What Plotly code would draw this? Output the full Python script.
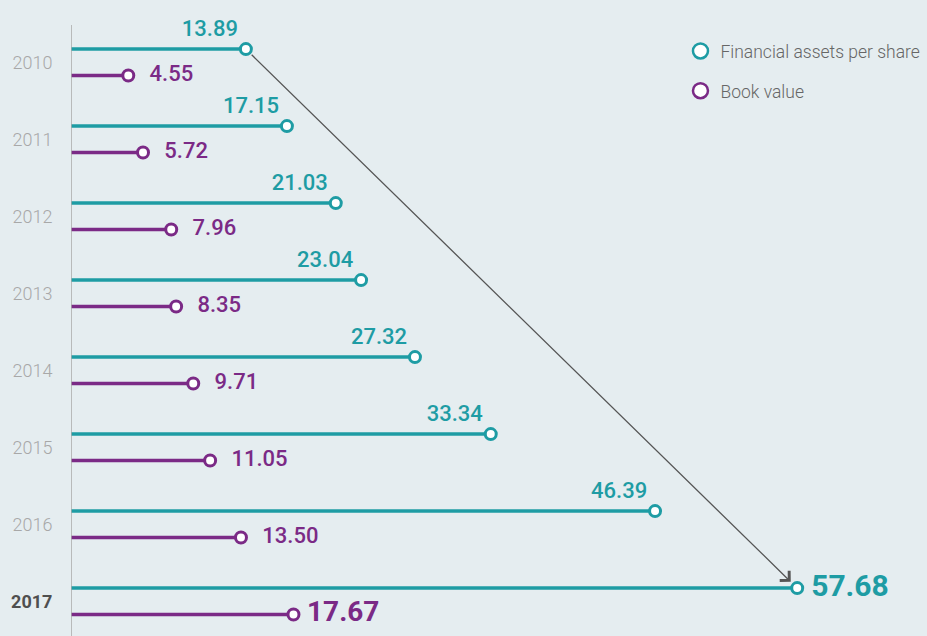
import plotly.graph_objects as go

years = ["2010", "2011", "2012", "2013", "2014", "2015", "2016", "2017"]
financial_assets = [13.89, 17.15, 21.03, 23.04, 27.32, 33.34, 46.39, 57.68]
book_value = [4.55, 5.72, 7.96, 8.35, 9.71, 11.05, 13.50, 17.67]

TEAL = "#1e9ca4"
PURPLE = "#7b2a86"
BG = "#e5edf0"
FONT = "Roboto"

off = 0.171
idx = list(range(len(years)))
y_fa = [k - off for k in idx]
y_bv = [k + off for k in idx]

def seg(vals, ys):
    xs, yy = [], []
    for v, y in zip(vals, ys):
        xs += [0, v, None]
        yy += [y, y, None]
    return xs, yy

fig = go.Figure()

x1, yy1 = seg(financial_assets, y_fa)
x2, yy2 = seg(book_value, y_bv)
fig.add_trace(go.Scatter(x=x1, y=yy1, mode="lines", line=dict(color=TEAL, width=3.5),
                         showlegend=False, hoverinfo="skip"))
fig.add_trace(go.Scatter(x=x2, y=yy2, mode="lines", line=dict(color=PURPLE, width=3.5),
                         showlegend=False, hoverinfo="skip"))

n = len(years)
last = n - 1
fa_text = [f"{v:.2f}" for v in financial_assets]
fa_text[-1] = "\u2009" + fa_text[-1]
bv_text = ["\u2009\u2009\u2009" + f"{v:.2f}" for v in book_value]
bv_text[-1] = "\u2009" + f"{book_value[-1]:.2f}"
fa_pos = ["top left"] * last + ["middle right"]
fa_size = [22] * last + [30]
bv_size = [22] * last + [28]
fa_weight = [500] * last + [700]
bv_weight = [500] * last + [700]

fig.add_trace(go.Scatter(
    x=financial_assets, y=y_fa, mode="markers+text", text=fa_text,
    textposition=fa_pos,
    textfont=dict(family=FONT, color=TEAL, size=fa_size, weight=fa_weight),
    marker=dict(symbol="circle", size=11, color="white", line=dict(color=TEAL, width=3)),
    showlegend=False, hoverinfo="skip", cliponaxis=False))
fig.add_trace(go.Scatter(
    x=book_value, y=y_bv, mode="markers+text", text=bv_text,
    textposition="middle right",
    textfont=dict(family=FONT, color=PURPLE, size=bv_size, weight=bv_weight),
    marker=dict(symbol="circle", size=11, color="white", line=dict(color=PURPLE, width=3)),
    showlegend=False, hoverinfo="skip", cliponaxis=False))

# legend entries
fig.add_trace(go.Scatter(x=[None], y=[None], mode="markers", name="Financial assets per share",
                         legendgroup="a",
                         marker=dict(symbol="circle", size=15, color="white",
                                     line=dict(color=TEAL, width=2.5))))
fig.add_trace(go.Scatter(x=[None], y=[None], mode="markers", name="Book value",
                         legendgroup="b",
                         marker=dict(symbol="circle", size=15, color="white",
                                     line=dict(color=PURPLE, width=2.5))))

# arrow from 2010 to 2017 financial assets
fig.add_annotation(x=financial_assets[-1], y=y_fa[-1], ax=financial_assets[0], ay=y_fa[0],
                   xref="x", yref="y", axref="x", ayref="y", text="",
                   showarrow=True, arrowhead=4, arrowsize=2.0, arrowwidth=1.3,
                   arrowcolor="#555555", standoff=9, startstandoff=6)

# y axis line
fig.add_shape(type="line", xref="x", yref="paper", x0=0, x1=0, y0=0, y1=1 - 25 / 636,
              line=dict(color="#a9a9a9", width=1.5))

ticktext = years[:-1] + ["<span style='color:#4f4f4f'><b>" + years[-1] + "</b></span>"]

fig.update_layout(
    width=927, height=636,
    margin=dict(l=71, r=0, t=0, b=0),
    paper_bgcolor=BG, plot_bgcolor=BG,
    font=dict(family=FONT),
    xaxis=dict(range=[0, 856 / 12.59], visible=False, fixedrange=True),
    yaxis=dict(range=[7.451, -0.809], tickvals=idx, ticktext=ticktext,
               showgrid=False, zeroline=False, showline=False,
               ticks="outside", ticklen=14, tickcolor="rgba(0,0,0,0)",
               tickfont=dict(family=FONT, size=18, color="#a8a8a8", weight=300)),
    legend=dict(x=0.712, y=0.948, xanchor="left", yanchor="top",
                bgcolor="rgba(0,0,0,0)", tracegroupgap=14,
                font=dict(family=FONT, size=17.5, color="#666666", weight=300),
                itemwidth=30),
    showlegend=True,
)

fig.write_html("out.html")
